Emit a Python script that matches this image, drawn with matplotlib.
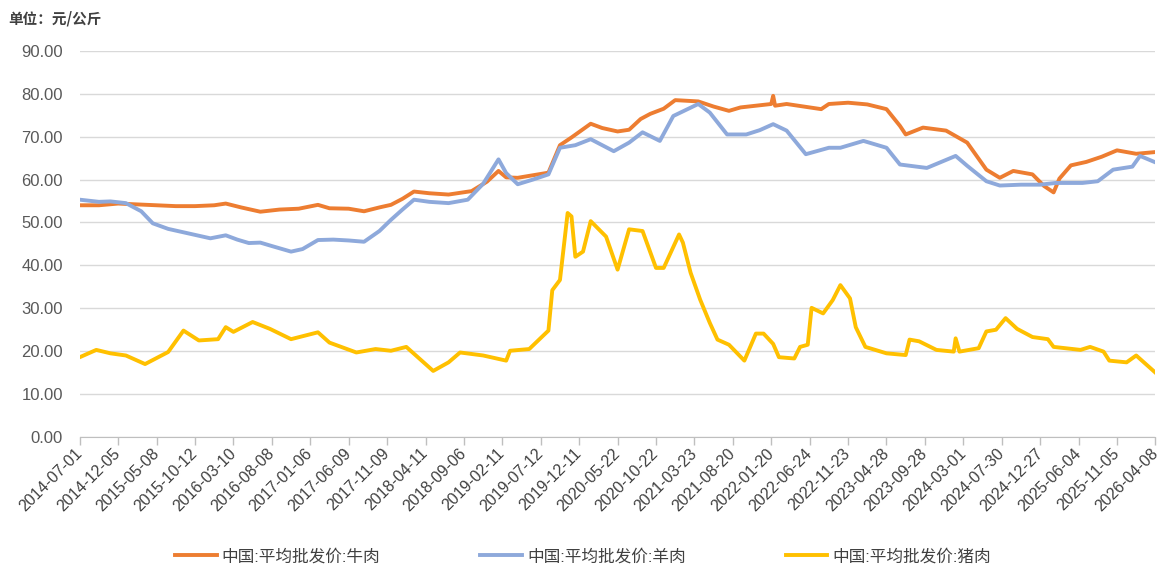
import matplotlib
matplotlib.use("Agg")
import matplotlib.pyplot as plt

plt.rcParams["font.family"] = ["Liberation Sans", "Noto Sans CJK SC", "DejaVu Sans"]

# x positions are in units of the (evenly spaced) category tick interval
tick_labels = [
    "2014-07-01", "2014-12-05", "2015-05-08", "2015-10-12", "2016-03-10",
    "2016-08-08", "2017-01-06", "2017-06-09", "2017-11-09", "2018-04-11",
    "2018-09-06", "2019-02-11", "2019-07-12", "2019-12-11", "2020-05-22",
    "2020-10-22", "2021-03-23", "2021-08-20", "2022-01-20", "2022-06-24",
    "2022-11-23", "2023-04-28", "2023-09-28", "2024-03-01", "2024-07-30",
    "2024-12-27", "2025-06-04", "2025-11-05", "2026-04-08",
]

beef_t = [0, 0.5, 1.0, 1.5, 2.0, 2.5, 3.0, 3.5, 3.8, 4.2, 4.7, 5.2, 5.7, 6.2,
          6.5, 7.0, 7.4, 7.8, 8.1, 8.4, 8.7, 9.1, 9.6, 10.2, 10.6, 10.9, 11.1,
          11.4, 11.8, 12.2, 12.5, 12.8, 13.3, 13.6, 14.0, 14.3, 14.6, 14.85,
          15.2, 15.5, 16.1, 16.5, 16.9, 17.2, 17.6, 18.0, 18.05, 18.1, 18.4,
          18.7, 19.3, 19.5, 20.0, 20.5, 21.0, 21.35, 21.5, 21.95, 22.55, 23.1,
          23.6, 23.95, 24.3, 24.8, 25.1, 25.35, 25.5, 25.8, 26.2, 26.6, 27.0,
          27.5, 28.0]
beef = [54.0, 54.0, 54.4, 54.2, 54.0, 53.8, 53.8, 54.0, 54.4, 53.5, 52.5, 53.0,
        53.2, 54.1, 53.3, 53.2, 52.6, 53.5, 54.1, 55.5, 57.2, 56.8, 56.5, 57.3,
        59.5, 62.0, 60.5, 60.4, 61.0, 61.6, 68.0, 69.8, 73.0, 72.0, 71.2, 71.6,
        74.1, 75.3, 76.5, 78.5, 78.2, 77.0, 76.0, 76.8, 77.2, 77.6, 79.5, 77.2,
        77.6, 77.2, 76.4, 77.6, 77.9, 77.5, 76.4, 72.5, 70.5, 72.1, 71.4, 68.6,
        62.3, 60.4, 62.0, 61.2, 58.5, 57.0, 60.2, 63.3, 64.1, 65.3, 66.8, 66.0,
        66.4]

mutton_t = [0, 0.5, 0.8, 1.2, 1.6, 1.9, 2.3, 2.8, 3.4, 3.8, 4.1, 4.4, 4.7, 5.0,
            5.5, 5.8, 6.2, 6.6, 7.0, 7.4, 7.8, 8.1, 8.4, 8.7, 9.1, 9.6, 10.1,
            10.5, 10.9, 11.1, 11.4, 11.8, 12.2, 12.5, 12.9, 13.3, 13.6, 13.9,
            14.3, 14.65, 15.1, 15.45, 16.1, 16.4, 16.85, 17.35, 17.7, 18.05,
            18.4, 18.9, 19.5, 19.8, 20.4, 21.0, 21.35, 22.05, 22.8, 23.1, 23.6,
            23.95, 24.5, 25.0, 25.4, 26.1, 26.5, 26.9, 27.4, 27.6, 28.0]
mutton = [55.3, 54.8, 54.9, 54.5, 52.6, 49.8, 48.5, 47.5, 46.3, 47.0, 46.0,
          45.2, 45.3, 44.5, 43.2, 43.8, 45.9, 46.0, 45.8, 45.5, 48.0, 50.6,
          53.0, 55.3, 54.8, 54.5, 55.3, 59.0, 64.7, 61.5, 58.9, 60.0, 61.2,
          67.4, 68.0, 69.4, 68.0, 66.6, 68.6, 71.0, 69.0, 74.8, 77.6, 75.6,
          70.5, 70.5, 71.5, 72.9, 71.4, 65.9, 67.4, 67.4, 69.0, 67.4, 63.5,
          62.7, 65.5, 63.2, 59.6, 58.6, 58.8, 58.8, 59.2, 59.2, 59.6, 62.3,
          63.0, 65.5, 64.0]

pork_t = [0, 0.43, 0.8, 1.2, 1.7, 2.3, 2.7, 3.1, 3.6, 3.8, 4.0, 4.5, 4.95, 5.5,
          6.2, 6.5, 7.2, 7.7, 8.1, 8.5, 8.8, 9.2, 9.6, 9.9, 10.5, 11.1, 11.2,
          11.7, 12.2, 12.3, 12.5, 12.7, 12.8, 12.9, 13.1, 13.3, 13.7, 14.0,
          14.3, 14.65, 15.0, 15.2, 15.6, 15.7, 15.9, 16.15, 16.4, 16.6, 16.9,
          17.3, 17.6, 17.8, 18.05, 18.2, 18.6, 18.75, 18.95, 19.05, 19.35,
          19.6, 19.8, 20.05, 20.2, 20.45, 21.0, 21.5, 21.6, 21.85, 22.3, 22.75,
          22.8, 22.9, 23.4, 23.6, 23.85, 24.1, 24.4, 24.8, 25.2, 25.35, 26.05,
          26.3, 26.65, 26.8, 27.25, 27.5, 28.0]
pork = [18.6, 20.3, 19.5, 19.0, 17.0, 19.8, 24.8, 22.5, 22.8, 25.6, 24.5, 26.8,
        25.2, 22.8, 24.4, 22.0, 19.7, 20.5, 20.1, 21.0, 18.6, 15.4, 17.4, 19.7,
        19.0, 17.8, 20.1, 20.5, 24.8, 34.2, 36.6, 52.2, 51.4, 42.0, 43.2, 50.3,
        46.7, 39.0, 48.4, 48.0, 39.4, 39.4, 47.2, 45.3, 38.3, 32.0, 26.6, 22.7,
        21.5, 17.8, 24.1, 24.1, 21.7, 18.6, 18.3, 21.0, 21.5, 30.1, 28.8, 31.9,
        35.4, 32.3, 25.6, 21.0, 19.5, 19.1, 22.7, 22.3, 20.3, 19.9, 23.0, 19.9,
        20.7, 24.6, 25.0, 27.7, 25.2, 23.3, 22.8, 21.0, 20.3, 21.0, 19.9, 17.8,
        17.4, 19.0, 15.0]

series_names = ["中国:平均批发价:牛肉", "中国:平均批发价:羊肉", "中国:平均批发价:猪肉"]
colors = ["#ED7D31", "#8EA9DB", "#FFC000"]
y_ticks = [0, 10, 20, 30, 40, 50, 60, 70, 80, 90]

fig = plt.figure(figsize=(11.73, 5.77), dpi=100)
ax = fig.add_axes([0.068, 0.2426, 0.917, 0.6694])

for t, v, name, c in zip([beef_t, mutton_t, pork_t], [beef, mutton, pork],
                         series_names, colors):
    ax.plot(t, v, color=c, lw=2.8, label=name, solid_joinstyle="round")

ax.set_xlim(0, len(tick_labels) - 1)
ax.set_ylim(0, 90)
ax.set_yticks(y_ticks, [f"{v:.2f}" for v in y_ticks])
ax.set_xticks(range(len(tick_labels)))
ax.set_xticklabels(tick_labels, rotation=45, ha="right", va="center",
                   rotation_mode="anchor", fontsize=11.5, color="#404040")
ax.tick_params(axis="y", length=0, labelsize=12, labelcolor="#595959", pad=12)
ax.tick_params(axis="x", length=6, color="#BFBFBF", width=1, pad=4)
ax.grid(axis="y", color="#D9D9D9", lw=1)
ax.set_axisbelow(True)
for s in ["top", "right", "left"]:
    ax.spines[s].set_visible(False)
ax.spines["bottom"].set_color("#BFBFBF")

fig.text(0.007, 0.968, "单位：元/公斤", fontsize=10.5, fontweight="bold",
         color="#404040", family=["Noto Sans CJK SC", "DejaVu Sans"],
         va="center", ha="left")

fig.legend(loc="center", bbox_to_anchor=(0.497, 0.036), ncol=3, frameon=False,
           fontsize=12, handlelength=2.5, handletextpad=0.3, columnspacing=6.0,
           labelcolor="#404040")

fig.savefig("out.png", dpi=100)
